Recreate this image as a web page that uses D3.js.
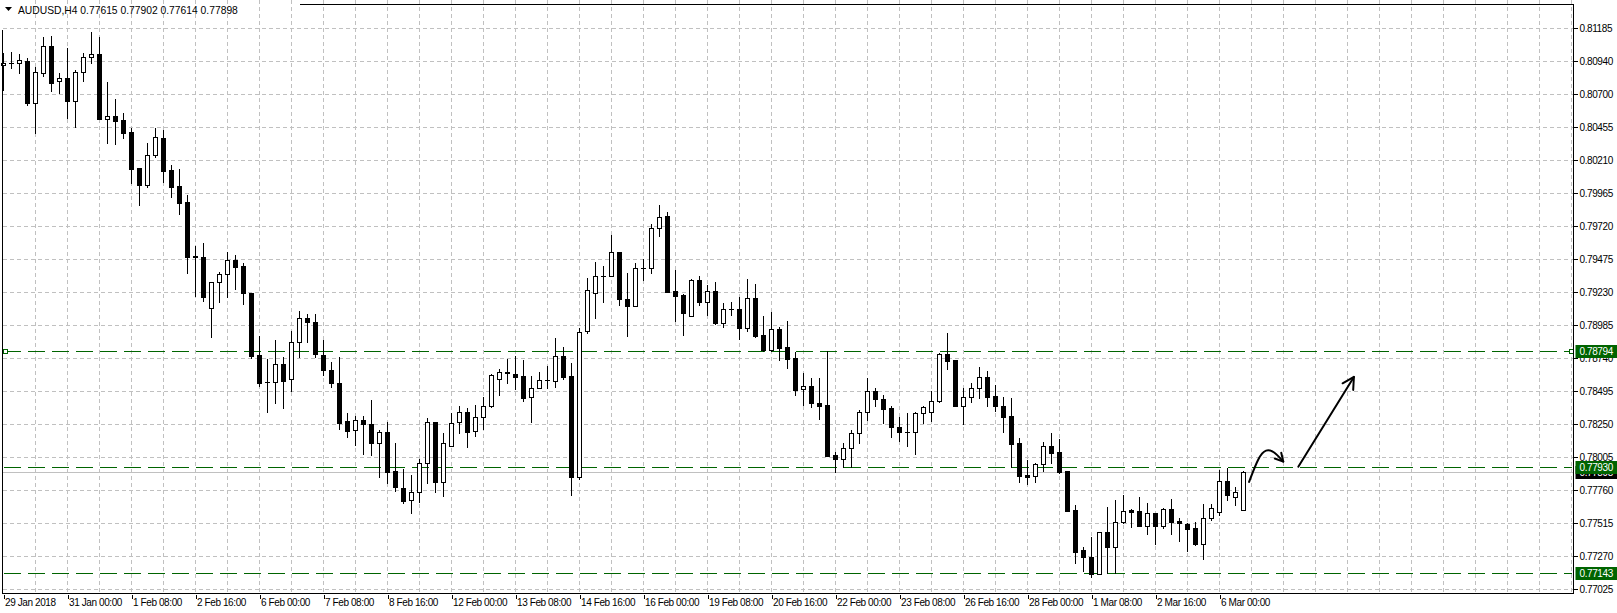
<!DOCTYPE html>
<html><head><meta charset="utf-8">
<script src="https://cdn.jsdelivr.net/npm/d3@7"></script>
<style>
html,body{margin:0;padding:0;background:#fff;}
svg{display:block;}
text{font-family:"Liberation Sans",Arial,sans-serif;font-size:10px;letter-spacing:-0.4px;fill:#000;}
</style></head><body>
<svg id="c" width="1617" height="613"></svg>
<script>
const symbolTitle = "AUDUSD,H4";
const lastOHLC = [0.77615, 0.77902, 0.77614, 0.77898];

const opens = [0.80913,0.80924,0.80926,0.80943,0.80633,0.80856,0.81054,0.80792,0.80817,0.80648,
0.80859,0.80970,0.80995,0.80515,0.80533,0.80505,0.80416,0.80149,0.80025,0.80248,
0.80372,0.80134,0.80016,0.79897,0.79493,0.79487,0.79109,0.79302,0.79361,0.79469,
0.79422,0.79220,0.78760,0.78562,0.78560,0.78694,0.78582,0.78857,0.79035,0.79005,
0.78760,0.78651,0.78553,0.78271,0.78204,0.78278,0.78249,0.78112,0.78190,0.77903,
0.77774,0.77688,0.77745,0.77960,0.78264,0.77823,0.78088,0.78264,0.78338,0.78201,
0.78301,0.78387,0.78582,0.78633,0.78620,0.78607,0.78449,0.78516,0.78577,0.78570,
0.78755,0.78607,0.77860,0.78943,0.79225,0.79348,0.79351,0.79526,0.79180,0.79128,
0.79410,0.79410,0.79702,0.79793,0.79237,0.79208,0.79054,0.79319,0.79153,0.79237,
0.79002,0.79104,0.79104,0.78961,0.79188,0.78911,0.78800,0.78953,0.78820,0.78738,
0.78508,0.78533,0.78405,0.78392,0.78021,0.77992,0.78071,0.78187,0.78342,0.78496,
0.78434,0.78372,0.78229,0.78192,0.78190,0.78330,0.78342,0.78422,0.78770,0.78723,
0.78385,0.78453,0.78516,0.78597,0.78456,0.78385,0.78310,0.78108,0.77873,0.77868,
0.77952,0.78088,0.78043,0.77905,0.77613,0.77317,0.77263,0.77137,0.77448,0.77341,
0.77527,0.77613,0.77606,0.77497,0.77589,0.77497,0.77621,0.77532,0.77510,0.77478,
0.77359,0.77552,0.77599,0.77828,0.77710,0.77615];

const highs = [0.80999,0.81012,0.80995,0.80963,0.80896,0.81118,0.81128,0.80851,0.81037,0.80876,
0.81004,0.81158,0.81118,0.80789,0.80661,0.80555,0.80448,0.80149,0.80332,0.80448,
0.80431,0.80169,0.80142,0.79951,0.79569,0.79593,0.79302,0.79378,0.79524,0.79502,
0.79445,0.79225,0.78904,0.78733,0.78874,0.78746,0.78941,0.79089,0.79067,0.79067,
0.78874,0.78709,0.78750,0.78330,0.78310,0.78310,0.78429,0.78207,0.78268,0.78112,
0.77915,0.77873,0.77989,0.78293,0.78264,0.78182,0.78335,0.78385,0.78367,0.78392,
0.78449,0.78622,0.78657,0.78731,0.78755,0.78726,0.78607,0.78639,0.78681,0.78887,
0.78824,0.78701,0.78961,0.79331,0.79455,0.79422,0.79652,0.79526,0.79368,0.79443,
0.79472,0.79732,0.79875,0.79821,0.79393,0.79215,0.79324,0.79348,0.79282,0.79302,
0.79146,0.79158,0.79195,0.79326,0.79289,0.79052,0.79079,0.78973,0.79015,0.78787,
0.78627,0.78590,0.78590,0.78794,0.78046,0.78108,0.78207,0.78355,0.78590,0.78520,
0.78466,0.78385,0.78305,0.78330,0.78342,0.78385,0.78498,0.78775,0.78928,0.78723,
0.78516,0.78557,0.78671,0.78644,0.78540,0.78453,0.78442,0.78147,0.77984,0.77960,
0.78118,0.78184,0.78138,0.77905,0.77650,0.77337,0.77411,0.77448,0.77633,0.77688,
0.77725,0.77619,0.77708,0.77663,0.77593,0.77630,0.77695,0.77552,0.77519,0.77527,
0.77658,0.77658,0.77910,0.77923,0.77786,0.77902];

const lows = [0.80728,0.80893,0.80856,0.80619,0.80411,0.80834,0.80720,0.80708,0.80518,0.80456,
0.80797,0.80926,0.80510,0.80337,0.80327,0.80370,0.80036,0.79875,0.80006,0.80233,
0.80043,0.79936,0.79808,0.79368,0.79200,0.79165,0.78894,0.79158,0.79195,0.79250,
0.79139,0.78738,0.78533,0.78342,0.78409,0.78367,0.78496,0.78750,0.78861,0.78746,
0.78614,0.78523,0.78212,0.78157,0.78095,0.78026,0.78021,0.77860,0.77811,0.77756,
0.77667,0.77589,0.77675,0.77811,0.77749,0.77719,0.78088,0.78187,0.78083,0.78164,
0.78214,0.78377,0.78466,0.78557,0.78508,0.78424,0.78268,0.78516,0.78516,0.78523,
0.78582,0.77725,0.77843,0.78928,0.79035,0.79158,0.79351,0.79133,0.78904,0.79128,
0.79319,0.79373,0.79645,0.79228,0.79015,0.78911,0.79054,0.79133,0.79059,0.78993,
0.78973,0.79059,0.78881,0.78943,0.78898,0.78792,0.78792,0.78726,0.78669,0.78466,
0.78392,0.78379,0.78286,0.78016,0.77897,0.77934,0.77934,0.78108,0.78281,0.78385,
0.78256,0.78157,0.78127,0.78090,0.78029,0.78261,0.78276,0.78416,0.78657,0.78385,
0.78249,0.78416,0.78442,0.78385,0.78347,0.78194,0.77930,0.77823,0.77804,0.77823,
0.77905,0.77960,0.77885,0.77608,0.77223,0.77163,0.77114,0.77137,0.77144,0.77148,
0.77515,0.77490,0.77497,0.77435,0.77361,0.77478,0.77435,0.77386,0.77312,0.77354,
0.77248,0.77539,0.77576,0.77688,0.77650,0.77614];

const closes = [0.80930,0.80928,0.80948,0.80633,0.80859,0.81054,0.80782,0.80814,0.80648,0.80859,
0.80970,0.80992,0.80513,0.80535,0.80500,0.80411,0.80144,0.80025,0.80243,0.80377,
0.80129,0.80011,0.79888,0.79492,0.79489,0.79195,0.79302,0.79363,0.79467,0.79417,
0.79220,0.78755,0.78557,0.78559,0.78694,0.78572,0.78857,0.79035,0.79005,0.78768,
0.78651,0.78553,0.78261,0.78201,0.78278,0.78249,0.78112,0.78190,0.77897,0.77786,
0.77682,0.77745,0.77960,0.78264,0.77823,0.78108,0.78256,0.78338,0.78194,0.78301,
0.78387,0.78614,0.78634,0.78629,0.78602,0.78446,0.78516,0.78577,0.78574,0.78755,
0.78602,0.77860,0.78935,0.79245,0.79348,0.79345,0.79526,0.79176,0.79126,0.79406,
0.79408,0.79702,0.79788,0.79232,0.79202,0.79076,0.79319,0.79158,0.79237,0.78998,
0.79104,0.79100,0.78965,0.79183,0.78904,0.78800,0.78953,0.78817,0.78735,0.78503,
0.78529,0.78405,0.78387,0.78016,0.77992,0.78071,0.78187,0.78338,0.78496,0.78434,
0.78364,0.78231,0.78194,0.78188,0.78330,0.78375,0.78422,0.78768,0.78720,0.78385,
0.78453,0.78516,0.78597,0.78453,0.78385,0.78305,0.78103,0.77865,0.77860,0.77952,
0.78088,0.78038,0.77897,0.77608,0.77304,0.77263,0.77139,0.77448,0.77341,0.77527,
0.77608,0.77601,0.77497,0.77589,0.77497,0.77621,0.77527,0.77515,0.77475,0.77359,
0.77552,0.77626,0.77828,0.77725,0.77747,0.77898];

const priceTicks = [0.81185,0.80940,0.80700,0.80455,0.80210,0.79965,0.79720,0.79475,0.79230,
0.78985,0.78740,0.78495,0.78250,0.78005,0.77760,0.77515,0.77270,0.77025];

const timeLabels = ["29 Jan 2018","31 Jan 00:00","1 Feb 08:00","2 Feb 16:00","6 Feb 00:00",
"7 Feb 08:00","8 Feb 16:00","12 Feb 00:00","13 Feb 08:00","14 Feb 16:00","16 Feb 00:00",
"19 Feb 08:00","20 Feb 16:00","22 Feb 00:00","23 Feb 08:00","26 Feb 16:00","28 Feb 00:00",
"1 Mar 08:00","2 Mar 16:00","6 Mar 00:00"];
const labelEvery = 8;   // bars between time labels
const gridEvery = 4;    // bars between vertical grid lines

const levelLines = [0.78794, 0.77930, 0.77143];
const selectedLevel = 0.78794;
const bidPrice = 0.77898;

// hand-drawn annotation arrows, in (bar index, price)
const curvedArrow = [[155.7,0.77821],[156.9,0.78010],[157.8,0.78065],[158.8,0.78050],[159.97,0.77972]];
const straightArrow = [[161.85,0.77934],[168.8,0.78600]];

// ---------- layout ----------
const W = 1617, H = 613;
const plotL = 2.5, plotR = 1573.5, plotB = 593.5, plotT = 4.5;
const svg = d3.select("#c");

const x = d3.scaleLinear().domain([0, opens.length - 1]).range([3.5, 3.5 + 8 * (opens.length - 1)]);
const y = d3.scaleLinear().domain([0.77025, 0.81185]).range([589.3, 28.3]);
const py = v => Math.round(y(v)) + 0.5;

const gridColor = "#c0c0c0";
const green = "#006400";

// horizontal grid
svg.append("g").selectAll("line").data(priceTicks).join("line")
  .attr("x1", plotL).attr("x2", plotR)
  .attr("y1", d => py(d)).attr("y2", d => py(d))
  .attr("stroke", gridColor).attr("stroke-dasharray", "4,3").attr("shape-rendering","crispEdges");

// vertical grid
const vIdx = d3.range(gridEvery, 200, gridEvery).filter(i => x(i) < plotR - 1);
svg.append("g").selectAll("line").data(vIdx).join("line")
  .attr("x1", d => x(d)).attr("x2", d => x(d))
  .attr("y1", 0).attr("y2", plotB)
  .attr("stroke", gridColor).attr("stroke-dasharray", "4,3").attr("shape-rendering","crispEdges");

// bid line
svg.append("line").attr("x1", plotL).attr("x2", plotR)
  .attr("y1", py(bidPrice)).attr("y2", py(bidPrice))
  .attr("stroke", "#c0c0c0").attr("shape-rendering","crispEdges");

// level lines
svg.append("g").selectAll("line").data(levelLines).join("line")
  .attr("x1", plotL + 1).attr("x2", plotR - 2)
  .attr("y1", d => py(d)).attr("y2", d => py(d))
  .attr("stroke", green).attr("stroke-dasharray", "17,7").attr("shape-rendering","crispEdges");

// candles
const bars = d3.range(opens.length).map(i => ({i, o: opens[i], h: highs[i], l: lows[i], c: closes[i]}));
const gC = svg.append("g").attr("shape-rendering","crispEdges");
bars.forEach(b => {
  const cx = x(b.i);
  const top = Math.round(y(Math.max(b.o, b.c)));
  const bot = Math.round(y(Math.min(b.o, b.c)));
  const yh = Math.round(y(b.h)), yl = Math.round(y(b.l));
  gC.append("line").attr("x1", cx).attr("x2", cx).attr("y1", yh).attr("y2", yl + 1)
    .attr("stroke", "#000").attr("stroke-width", 1);
  if (bot - top < 1) {
    gC.append("rect").attr("x", cx - 2.5).attr("y", top).attr("width", 5).attr("height", 1).attr("fill", "#000");
  } else if (b.c > b.o) {
    gC.append("rect").attr("x", cx - 2).attr("y", top + 0.5).attr("width", 4).attr("height", bot - top)
      .attr("fill", "#fff").attr("stroke", "#000").attr("stroke-width", 1);
  } else {
    gC.append("rect").attr("x", cx - 2.5).attr("y", top).attr("width", 5).attr("height", bot - top + 1)
      .attr("fill", "#000");
  }
});

// selection squares on the selected level
[plotL + 2.5, plotR - 3].forEach(sx => {
  svg.append("rect").attr("x", Math.round(sx) - 2 + 0.5).attr("y", py(selectedLevel) - 2)
    .attr("width", 4).attr("height", 4).attr("fill", "#fff").attr("stroke", green)
    .attr("shape-rendering","crispEdges");
});

// annotation arrows
const ann = svg.append("g").attr("fill", "none").attr("stroke", "#000").attr("stroke-width", 2)
  .attr("stroke-linecap", "round").attr("stroke-linejoin", "round");
const toPx = p => [x(p[0]), y(p[1])];
ann.append("path").attr("d", d3.line().curve(d3.curveBasis)(curvedArrow.map(toPx)));
ann.append("path").attr("d", d3.line()(straightArrow.map(toPx)));
function head(p1, p2, len) {
  const [x1, y1] = toPx(p1), [x2, y2] = toPx(p2);
  const a = Math.atan2(y1 - y2, x1 - x2);
  const pts = [-0.5, 0.5].map(da => [x2 + len * Math.cos(a + da), y2 + len * Math.sin(a + da)]);
  ann.append("path").attr("d", `M${pts[0][0]},${pts[0][1]}L${x2},${y2}L${pts[1][0]},${pts[1][1]}`);
}
head(curvedArrow[3], curvedArrow[4], 9);
head(straightArrow[0], straightArrow[1], 13);

// frame
const fr = svg.append("g").attr("stroke", "#000").attr("shape-rendering","crispEdges");
fr.append("line").attr("x1", plotL).attr("x2", plotL).attr("y1", 30).attr("y2", plotB);
fr.append("line").attr("x1", plotL).attr("x2", plotR + 0.5).attr("y1", plotB).attr("y2", plotB);
fr.append("line").attr("x1", plotR).attr("x2", plotR).attr("y1", plotT).attr("y2", plotB);
fr.append("line").attr("x1", 300).attr("x2", plotR).attr("y1", plotT).attr("y2", plotT);

// right price axis
const yAxis = d3.axisRight(y).tickValues(priceTicks).tickFormat(d3.format(".5f")).tickSize(4).tickPadding(2);
const gy = svg.append("g").attr("transform", `translate(${plotR},0)`).call(yAxis);
gy.select(".domain").remove();
gy.selectAll(".tick").attr("transform", d => `translate(0,${py(d)})`);
gy.selectAll(".tick line").attr("stroke", "#000").attr("shape-rendering","crispEdges");
gy.selectAll(".tick text").attr("x", 6).attr("dy", "0.34em").attr("fill", "#000")
  .style("font-family", "'Liberation Sans',Arial,sans-serif").style("font-size", "10px");

// bottom time axis
const xIdx = timeLabels.map((_, k) => k * labelEvery);
const xAxis = d3.axisBottom(x).tickValues(xIdx).tickFormat((d, k) => timeLabels[k]).tickSize(5);
const gx = svg.append("g").attr("transform", `translate(0,${plotB})`).call(xAxis);
gx.select(".domain").remove();
gx.selectAll(".tick line").attr("stroke", "#000").attr("shape-rendering","crispEdges").attr("y1", 1);
gx.selectAll(".tick text").attr("text-anchor", "start").attr("x", 1).attr("dy", null).attr("y", 12.5)
  .attr("fill", "#000").style("font-family", "'Liberation Sans',Arial,sans-serif").style("font-size", "10px");

// price labels in boxes (bid under the level labels)
function tag(v, bg) {
  const cy = y(v);
  svg.append("rect").attr("x", plotR + 2).attr("y", Math.round(cy) - 6).attr("width", W - plotR - 2).attr("height", 13)
    .attr("fill", bg);
  svg.append("text").attr("x", plotR + 6).attr("y", Math.round(cy) + 4).attr("fill", "#fff")
    .style("fill", "#fff").text(d3.format(".5f")(v));
}
tag(bidPrice, "#000");
levelLines.forEach(v => tag(v, green));

// header
svg.append("path").attr("d", "M5,7L12,7L8.5,11Z").attr("fill", "#000");
svg.append("text").attr("x", 18).attr("y", 13.5).style("letter-spacing", "0px").style("font-size", "10.3px")
  .text(symbolTitle + "  " + lastOHLC.map(d3.format(".5f")).join(" "));
</script>
</body></html>
